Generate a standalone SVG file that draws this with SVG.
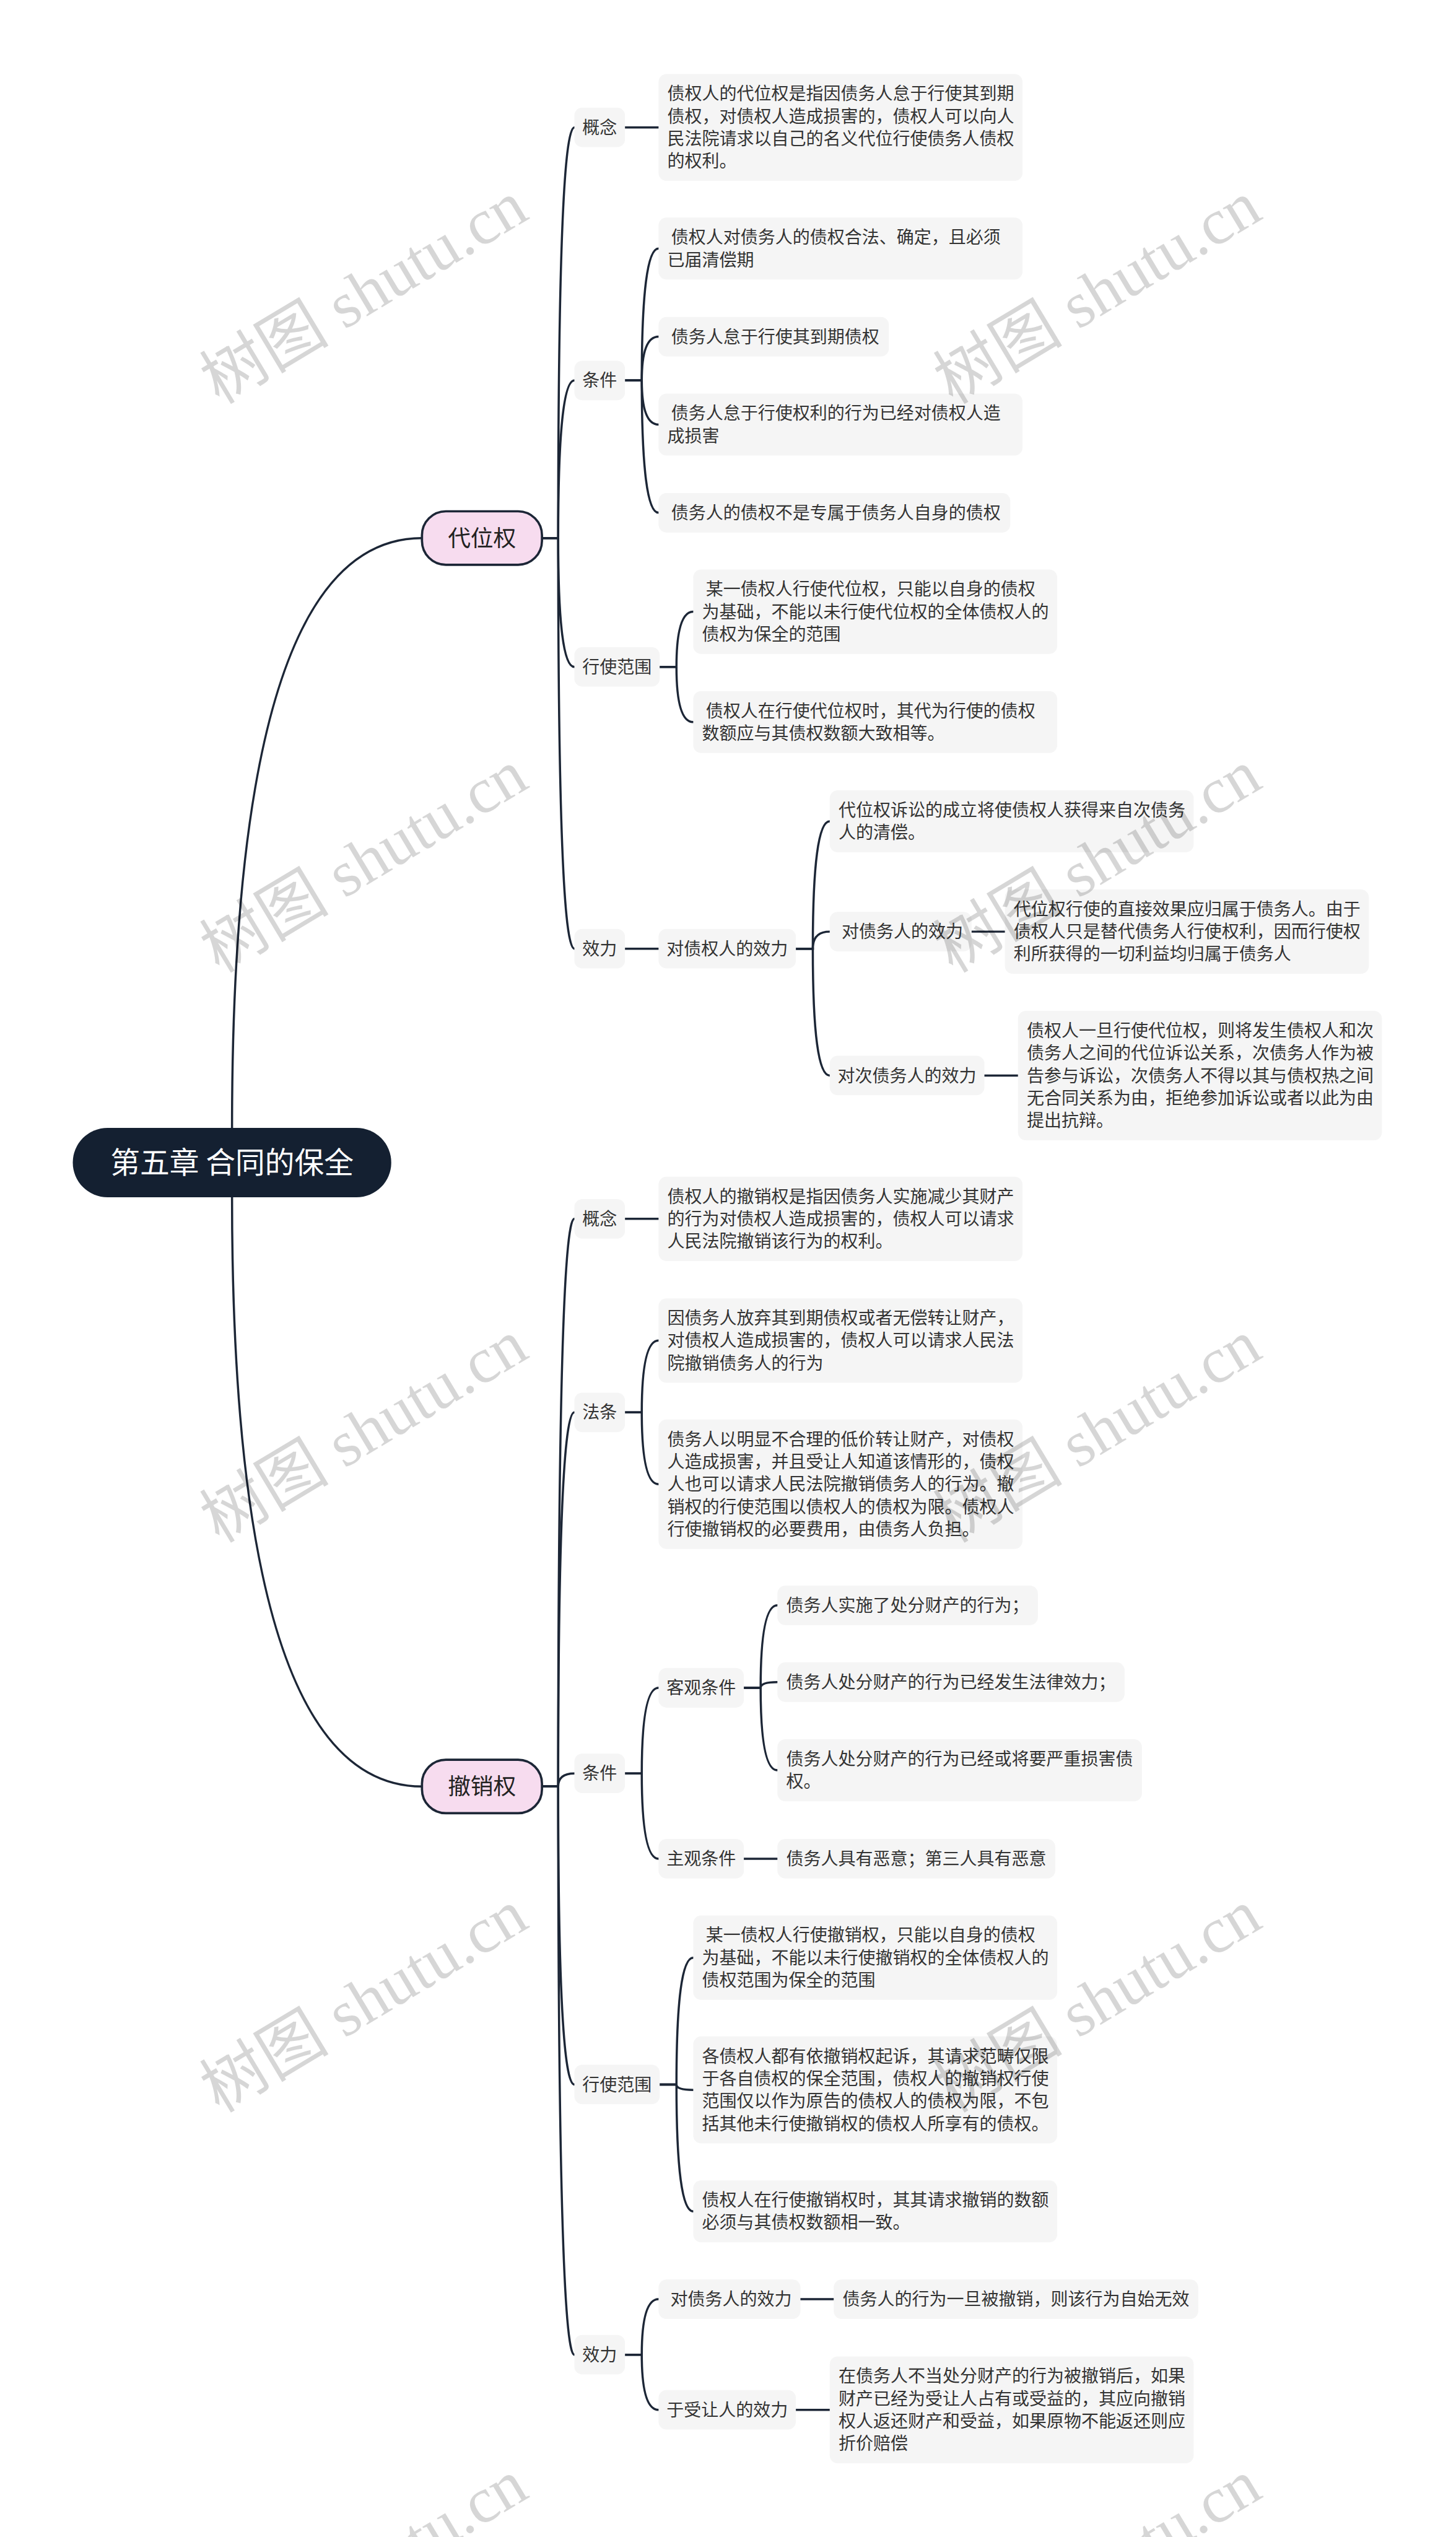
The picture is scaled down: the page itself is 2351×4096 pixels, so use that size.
<svg xmlns="http://www.w3.org/2000/svg" width="2351" height="4096" viewBox="0 0 2351 4096">
<style>
.ln{fill:none;stroke:#1c2636;stroke-width:3.8;stroke-linecap:round}
.bx{fill:#f5f5f5}
.t{font-family:"Noto Sans CJK SC","Noto Sans",sans-serif;font-size:30.5px;fill:#333333}
.l1r{fill:#f7dcef;stroke:#1c2636;stroke-width:4}
.l1t{font-family:"Noto Sans CJK SC","Noto Sans",sans-serif;font-size:40px;fill:#222222;text-anchor:middle}
.rt{font-family:"Noto Sans CJK SC","Noto Sans",sans-serif;font-size:52px;fill:#ffffff;text-anchor:middle}
.wm{font-family:"Liberation Serif","Noto Sans CJK SC",serif;font-size:114px;fill:#000000;fill-opacity:0.16;text-anchor:middle}
</style>
<rect width="2351" height="4096" fill="#ffffff"/>
<g transform="scale(0.91827)">
<g id="connectors">
<path class="ln" d="M408,1983 Q408,946 742,946"/>
<path class="ln" d="M408,2105 Q408,3141 742,3141"/>
<path class="ln" d="M953,946 L981.5,946 Q981.5,224 1010,224"/>
<path class="ln" d="M953,946 L981.5,946 Q981.5,669 1010,669"/>
<path class="ln" d="M953,946 L981.5,946 Q981.5,1172.5 1010,1172.5"/>
<path class="ln" d="M953,946 L981.5,946 Q981.5,1668 1010,1668"/>
<path class="ln" d="M1099,224 L1158,224"/>
<path class="ln" d="M1099,669 L1128.5,669 Q1128.5,437 1158,437"/>
<path class="ln" d="M1099,669 L1128.5,669 Q1128.5,592 1158,592"/>
<path class="ln" d="M1099,669 L1128.5,669 Q1128.5,746.5 1158,746.5"/>
<path class="ln" d="M1099,669 L1128.5,669 Q1128.5,901.5 1158,901.5"/>
<path class="ln" d="M1160,1172.5 L1189.5,1172.5 Q1189.5,1075.5 1219,1075.5"/>
<path class="ln" d="M1160,1172.5 L1189.5,1172.5 Q1189.5,1269.5 1219,1269.5"/>
<path class="ln" d="M1099,1668 L1158,1668"/>
<path class="ln" d="M1399.5,1668 L1429.25,1668 Q1429.25,1444 1459,1444"/>
<path class="ln" d="M1399.5,1668 L1429.25,1668 Q1429.25,1638 1459,1638"/>
<path class="ln" d="M1399.5,1668 L1429.25,1668 Q1429.25,1891 1459,1891"/>
<path class="ln" d="M1708.5,1638 L1767,1638"/>
<path class="ln" d="M1731,1891 L1790,1891"/>
<path class="ln" d="M953,3141 L981.5,3141 Q981.5,2143 1010,2143"/>
<path class="ln" d="M953,3141 L981.5,3141 Q981.5,2483.25 1010,2483.25"/>
<path class="ln" d="M953,3141 L981.5,3141 Q981.5,3118 1010,3118"/>
<path class="ln" d="M953,3141 L981.5,3141 Q981.5,3665 1010,3665"/>
<path class="ln" d="M953,3141 L981.5,3141 Q981.5,4140 1010,4140"/>
<path class="ln" d="M1099,2143 L1158,2143"/>
<path class="ln" d="M1099,2483.25 L1128.5,2483.25 Q1128.5,2357 1158,2357"/>
<path class="ln" d="M1099,2483.25 L1128.5,2483.25 Q1128.5,2609.5 1158,2609.5"/>
<path class="ln" d="M1099,3118 L1128.5,3118 Q1128.5,2967.5 1158,2967.5"/>
<path class="ln" d="M1099,3118 L1128.5,3118 Q1128.5,3268 1158,3268"/>
<path class="ln" d="M1308,2967.5 L1337.5,2967.5 Q1337.5,2822.5 1367,2822.5"/>
<path class="ln" d="M1308,2967.5 L1337.5,2967.5 Q1337.5,2957.5 1367,2957.5"/>
<path class="ln" d="M1308,2967.5 L1337.5,2967.5 Q1337.5,3112.5 1367,3112.5"/>
<path class="ln" d="M1308,3268 L1367,3268"/>
<path class="ln" d="M1160,3665 L1189.5,3665 Q1189.5,3442 1219,3442"/>
<path class="ln" d="M1160,3665 L1189.5,3665 Q1189.5,3674.5 1219,3674.5"/>
<path class="ln" d="M1160,3665 L1189.5,3665 Q1189.5,3888 1219,3888"/>
<path class="ln" d="M1099,4140 L1128.5,4140 Q1128.5,4042.5 1158,4042.5"/>
<path class="ln" d="M1099,4140 L1128.5,4140 Q1128.5,4237 1158,4237"/>
<path class="ln" d="M1407.5,4042.5 L1466,4042.5"/>
<path class="ln" d="M1399.5,4237 L1459,4237"/>
</g>

<g id="root"><rect x="128" y="1983" width="560" height="122" rx="61" fill="#142031"/><text class="rt" x="408" y="2063">第五章 合同的保全</text></g>

<g id="n-daiweiquan"><rect class="l1r" x="742" y="899" width="211" height="94" rx="42"/><text class="l1t" x="847.5" y="960">代位权</text></g>
<g id="n-chexiaoquan"><rect class="l1r" x="742" y="3094" width="211" height="94" rx="42"/><text class="l1t" x="847.5" y="3155">撤销权</text></g>

<g id="n-a-gainian"><rect class="bx" x="1010" y="189.25" width="89" height="69.5" rx="14"/><text class="t" x="1024" y="235">概念</text></g>
<g id="n-a-gainian-txt"><rect class="bx" x="1158" y="130" width="640" height="188" rx="14"/><text class="t"><tspan x="1173.5" y="175.75">债权人的代位权是指因债务人怠于行使其到期</tspan><tspan x="1173.5" y="215.25">债权，对债权人造成损害的，债权人可以向人</tspan><tspan x="1173.5" y="254.75">民法院请求以自己的名义代位行使债务人债权</tspan><tspan x="1173.5" y="294.25">的权利。</tspan></text></g>

<g id="n-a-tiaojian"><rect class="bx" x="1010" y="634.25" width="89" height="69.5" rx="14"/><text class="t" x="1024" y="680">条件</text></g>
<g id="n-a-tj1"><rect class="bx" x="1158" y="382.5" width="640" height="109" rx="14"/><text class="t"><tspan x="1173.5" y="428.25">&#160;债权人对债务人的债权合法、确定，且必须</tspan><tspan x="1173.5" y="467.75">已届清偿期</tspan></text></g>
<g id="n-a-tj2"><rect class="bx" x="1158" y="557.25" width="405" height="69.5" rx="14"/><text class="t" x="1173.5" y="603">&#160;债务人怠于行使其到期债权</text></g>
<g id="n-a-tj3"><rect class="bx" x="1158" y="692" width="640" height="109" rx="14"/><text class="t"><tspan x="1173.5" y="737.75">&#160;债务人怠于行使权利的行为已经对债权人造</tspan><tspan x="1173.5" y="777.25">成损害</tspan></text></g>
<g id="n-a-tj4"><rect class="bx" x="1158" y="866.75" width="618.5" height="69.5" rx="14"/><text class="t" x="1173.5" y="912.5">&#160;债务人的债权不是专属于债务人自身的债权</text></g>

<g id="n-a-fanwei"><rect class="bx" x="1010" y="1137.75" width="150" height="69.5" rx="14"/><text class="t" x="1024" y="1183.5">行使范围</text></g>
<g id="n-a-fw1"><rect class="bx" x="1219" y="1001.25" width="640" height="148.5" rx="14"/><text class="t"><tspan x="1234.5" y="1047">&#160;某一债权人行使代位权，只能以自身的债权</tspan><tspan x="1234.5" y="1086.5">为基础，不能以未行使代位权的全体债权人的</tspan><tspan x="1234.5" y="1126">债权为保全的范围</tspan></text></g>
<g id="n-a-fw2"><rect class="bx" x="1219" y="1215" width="640" height="109" rx="14"/><text class="t"><tspan x="1234.5" y="1260.75">&#160;债权人在行使代位权时，其代为行使的债权</tspan><tspan x="1234.5" y="1300.25">数额应与其债权数额大致相等。</tspan></text></g>

<g id="n-a-xiaoli"><rect class="bx" x="1010" y="1633.25" width="89" height="69.5" rx="14"/><text class="t" x="1024" y="1679">效力</text></g>
<g id="n-a-zqr"><rect class="bx" x="1158" y="1633.25" width="241.5" height="69.5" rx="14"/><text class="t" x="1172" y="1679">对债权人的效力</text></g>
<g id="n-a-zqr1"><rect class="bx" x="1459" y="1389.5" width="640" height="109" rx="14"/><text class="t"><tspan x="1474.5" y="1435.25">代位权诉讼的成立将使债权人获得来自次债务</tspan><tspan x="1474.5" y="1474.75">人的清偿。</tspan></text></g>
<g id="n-a-zwr"><rect class="bx" x="1459" y="1603.25" width="249.5" height="69.5" rx="14"/><text class="t" x="1473" y="1649">&#160;对债务人的效力</text></g>
<g id="n-a-zwr1"><rect class="bx" x="1767" y="1563.75" width="640" height="148.5" rx="14"/><text class="t"><tspan x="1782.5" y="1609.5">代位权行使的直接效果应归属于债务人。由于</tspan><tspan x="1782.5" y="1649">债权人只是替代债务人行使权利，因而行使权</tspan><tspan x="1782.5" y="1688.5">利所获得的一切利益均归属于债务人</tspan></text></g>
<g id="n-a-czwr"><rect class="bx" x="1459" y="1856.25" width="272" height="69.5" rx="14"/><text class="t" x="1473" y="1902">对次债务人的效力</text></g>
<g id="n-a-czwr1"><rect class="bx" x="1790" y="1777.25" width="640" height="227.5" rx="14"/><text class="t"><tspan x="1805.5" y="1823">债权人一旦行使代位权，则将发生债权人和次</tspan><tspan x="1805.5" y="1862.5">债务人之间的代位诉讼关系，次债务人作为被</tspan><tspan x="1805.5" y="1902">告参与诉讼，次债务人不得以其与债权热之间</tspan><tspan x="1805.5" y="1941.5">无合同关系为由，拒绝参加诉讼或者以此为由</tspan><tspan x="1805.5" y="1981">提出抗辩。</tspan></text></g>

<g id="n-b-gainian"><rect class="bx" x="1010" y="2108.25" width="89" height="69.5" rx="14"/><text class="t" x="1024" y="2154">概念</text></g>
<g id="n-b-gainian-txt"><rect class="bx" x="1158" y="2068.75" width="640" height="148.5" rx="14"/><text class="t"><tspan x="1173.5" y="2114.5">债权人的撤销权是指因债务人实施减少其财产</tspan><tspan x="1173.5" y="2154">的行为对债权人造成损害的，债权人可以请求</tspan><tspan x="1173.5" y="2193.5">人民法院撤销该行为的权利。</tspan></text></g>

<g id="n-b-fatiao"><rect class="bx" x="1010" y="2448.5" width="89" height="69.5" rx="14"/><text class="t" x="1024" y="2494.25">法条</text></g>
<g id="n-b-ft1"><rect class="bx" x="1158" y="2282.75" width="640" height="148.5" rx="14"/><text class="t"><tspan x="1173.5" y="2328.5">因债务人放弃其到期债权或者无偿转让财产，</tspan><tspan x="1173.5" y="2368">对债权人造成损害的，债权人可以请求人民法</tspan><tspan x="1173.5" y="2407.5">院撤销债务人的行为</tspan></text></g>
<g id="n-b-ft2"><rect class="bx" x="1158" y="2495.75" width="640" height="227.5" rx="14"/><text class="t"><tspan x="1173.5" y="2541.5">债务人以明显不合理的低价转让财产，对债权</tspan><tspan x="1173.5" y="2581">人造成损害，并且受让人知道该情形的，债权</tspan><tspan x="1173.5" y="2620.5">人也可以请求人民法院撤销债务人的行为。撤</tspan><tspan x="1173.5" y="2660">销权的行使范围以债权人的债权为限。债权人</tspan><tspan x="1173.5" y="2699.5">行使撤销权的必要费用，由债务人负担。</tspan></text></g>

<g id="n-b-tiaojian"><rect class="bx" x="1010" y="3083.25" width="89" height="69.5" rx="14"/><text class="t" x="1024" y="3129">条件</text></g>
<g id="n-b-keguan"><rect class="bx" x="1158" y="2932.75" width="150" height="69.5" rx="14"/><text class="t" x="1172" y="2978.5">客观条件</text></g>
<g id="n-b-kg1"><rect class="bx" x="1367" y="2787.75" width="458" height="69.5" rx="14"/><text class="t" x="1382.5" y="2833.5">债务人实施了处分财产的行为；</text></g>
<g id="n-b-kg2"><rect class="bx" x="1367" y="2922.75" width="610.5" height="69.5" rx="14"/><text class="t" x="1382.5" y="2968.5">债务人处分财产的行为已经发生法律效力；</text></g>
<g id="n-b-kg3"><rect class="bx" x="1367" y="3058" width="641" height="109" rx="14"/><text class="t"><tspan x="1382.5" y="3103.75">债务人处分财产的行为已经或将要严重损害债</tspan><tspan x="1382.5" y="3143.25">权。</tspan></text></g>
<g id="n-b-zhuguan"><rect class="bx" x="1158" y="3233.25" width="150" height="69.5" rx="14"/><text class="t" x="1172" y="3279">主观条件</text></g>
<g id="n-b-zg1"><rect class="bx" x="1367" y="3233.25" width="488.5" height="69.5" rx="14"/><text class="t" x="1382.5" y="3279">债务人具有恶意；第三人具有恶意</text></g>

<g id="n-b-fanwei"><rect class="bx" x="1010" y="3630.25" width="150" height="69.5" rx="14"/><text class="t" x="1024" y="3676">行使范围</text></g>
<g id="n-b-fw1"><rect class="bx" x="1219" y="3367.75" width="640" height="148.5" rx="14"/><text class="t"><tspan x="1234.5" y="3413.5">&#160;某一债权人行使撤销权，只能以自身的债权</tspan><tspan x="1234.5" y="3453">为基础，不能以未行使撤销权的全体债权人的</tspan><tspan x="1234.5" y="3492.5">债权范围为保全的范围</tspan></text></g>
<g id="n-b-fw2"><rect class="bx" x="1219" y="3580.5" width="640" height="188" rx="14"/><text class="t"><tspan x="1234.5" y="3626.25">各债权人都有依撤销权起诉，其请求范畴仅限</tspan><tspan x="1234.5" y="3665.75">于各自债权的保全范围，债权人的撤销权行使</tspan><tspan x="1234.5" y="3705.25">范围仅以作为原告的债权人的债权为限，不包</tspan><tspan x="1234.5" y="3744.75">括其他未行使撤销权的债权人所享有的债权。</tspan></text></g>
<g id="n-b-fw3"><rect class="bx" x="1219" y="3833.5" width="640" height="109" rx="14"/><text class="t"><tspan x="1234.5" y="3879.25">债权人在行使撤销权时，其其请求撤销的数额</tspan><tspan x="1234.5" y="3918.75">必须与其债权数额相一致。</tspan></text></g>

<g id="n-b-xiaoli"><rect class="bx" x="1010" y="4105.25" width="89" height="69.5" rx="14"/><text class="t" x="1024" y="4151">效力</text></g>
<g id="n-b-zwr"><rect class="bx" x="1158" y="4007.75" width="249.5" height="69.5" rx="14"/><text class="t" x="1172" y="4053.5">&#160;对债务人的效力</text></g>
<g id="n-b-zwr1"><rect class="bx" x="1466" y="4007.75" width="641" height="69.5" rx="14"/><text class="t" x="1481.5" y="4053.5">债务人的行为一旦被撤销，则该行为自始无效</text></g>
<g id="n-b-srr"><rect class="bx" x="1158" y="4202.25" width="241.5" height="69.5" rx="14"/><text class="t" x="1172" y="4248">于受让人的效力</text></g>
<g id="n-b-srr1"><rect class="bx" x="1459" y="4143" width="640" height="188" rx="14"/><text class="t"><tspan x="1474.5" y="4188.75">在债务人不当处分财产的行为被撤销后，如果</tspan><tspan x="1474.5" y="4228.25">财产已经为受让人占有或受益的，其应向撤销</tspan><tspan x="1474.5" y="4267.75">权人返还财产和受益，如果原物不能返还则应</tspan><tspan x="1474.5" y="4307.25">折价赔偿</tspan></text></g>

<g id="watermark">
<text class="wm" transform="translate(640,515) rotate(-31)" x="0" y="38">树图 shutu.cn</text>
<text class="wm" transform="translate(1930,515) rotate(-31)" x="0" y="38">树图 shutu.cn</text>
<text class="wm" transform="translate(640,1515) rotate(-31)" x="0" y="38">树图 shutu.cn</text>
<text class="wm" transform="translate(1930,1515) rotate(-31)" x="0" y="38">树图 shutu.cn</text>
<text class="wm" transform="translate(640,2517) rotate(-31)" x="0" y="38">树图 shutu.cn</text>
<text class="wm" transform="translate(1930,2517) rotate(-31)" x="0" y="38">树图 shutu.cn</text>
<text class="wm" transform="translate(640,3519) rotate(-31)" x="0" y="38">树图 shutu.cn</text>
<text class="wm" transform="translate(1930,3519) rotate(-31)" x="0" y="38">树图 shutu.cn</text>
<text class="wm" transform="translate(640,4521) rotate(-31)" x="0" y="38">树图 shutu.cn</text>
<text class="wm" transform="translate(1930,4521) rotate(-31)" x="0" y="38">树图 shutu.cn</text>
</g>
</g>
</svg>
